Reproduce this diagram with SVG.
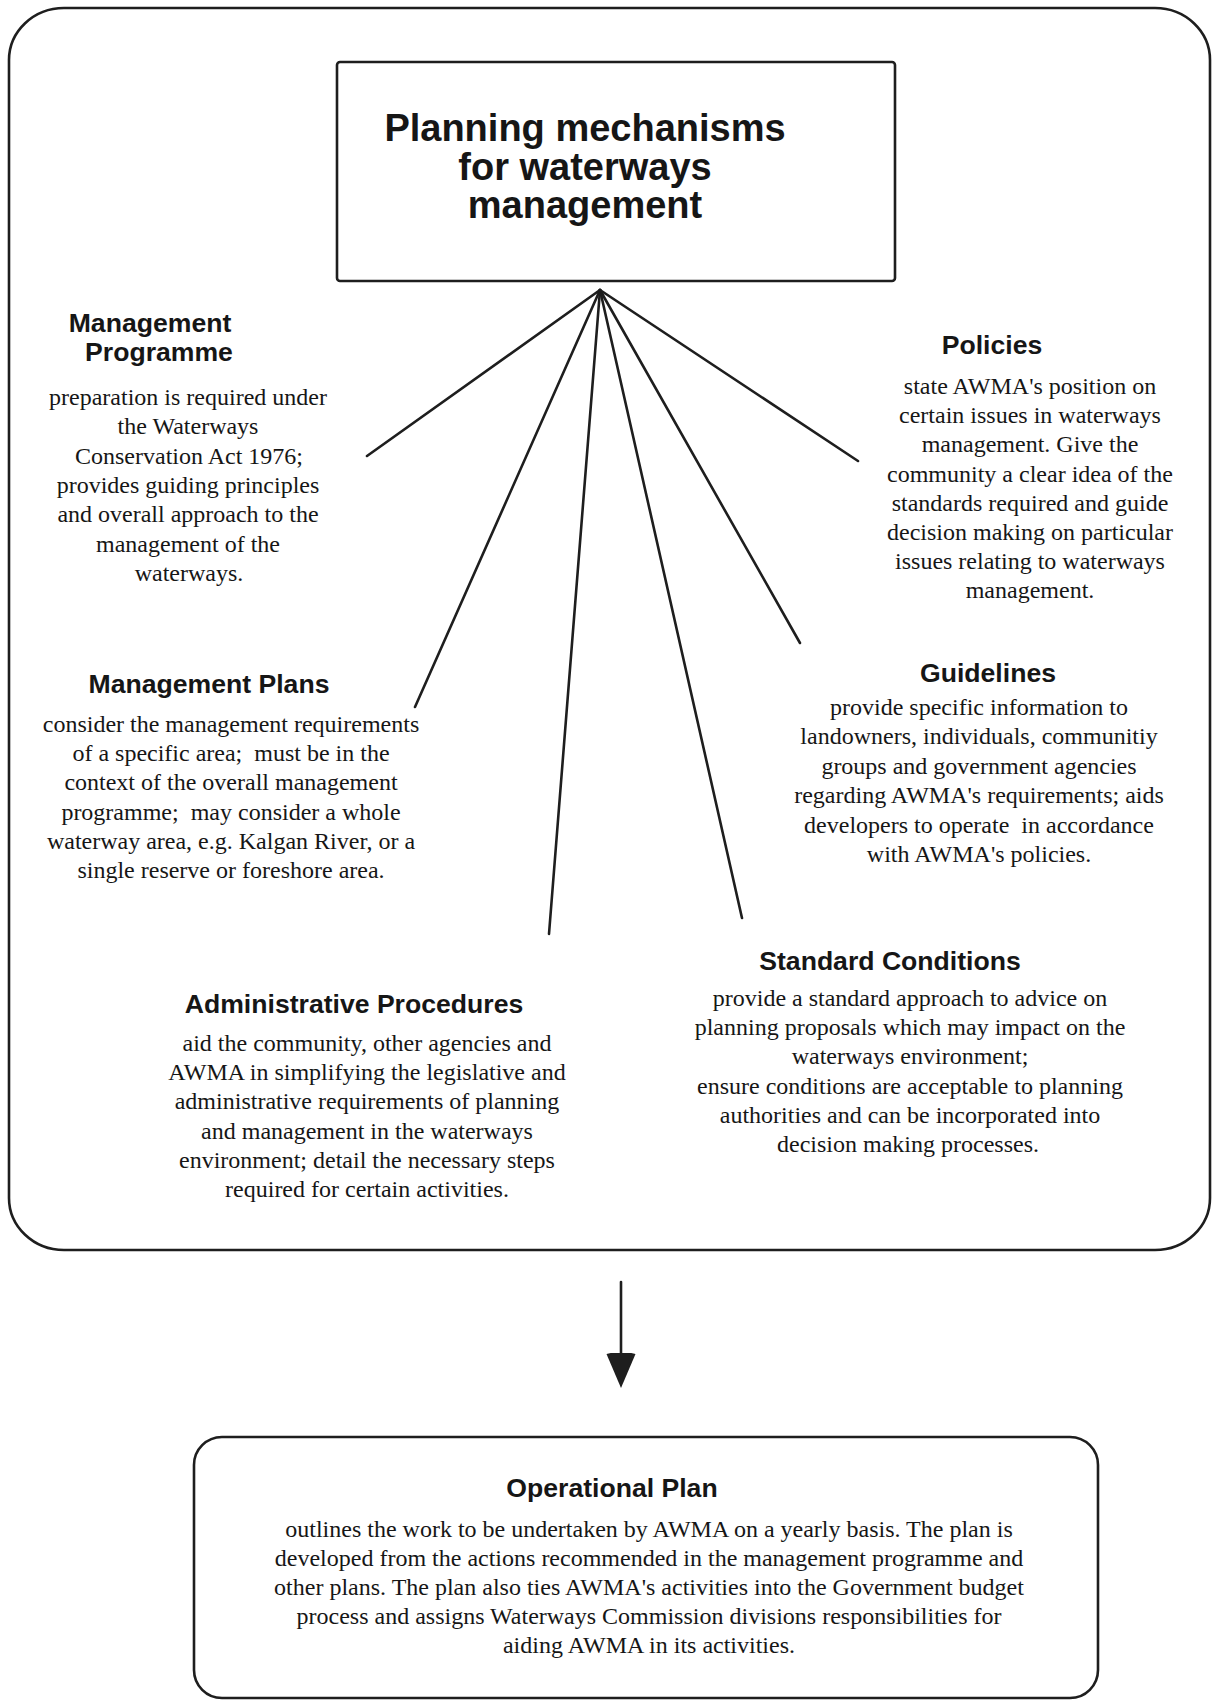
<svg xmlns="http://www.w3.org/2000/svg" width="1215" height="1703" viewBox="0 0 1215 1703">
<style>
  .frame { fill: none; stroke: #1e1e1e; stroke-width: 2.6; }
  .conn { stroke: #1e1e1e; stroke-width: 2.6; stroke-linecap: round; fill: none; }
  .h { font-family: "Liberation Sans", Arial, Helvetica, sans-serif; font-weight: bold; font-size: 26.6px; fill: #161616; text-anchor: middle; }
  .title { font-family: "Liberation Sans", Arial, Helvetica, sans-serif; font-weight: bold; font-size: 38px; fill: #161616; text-anchor: middle; }
  .b { font-family: "Liberation Serif", "Times New Roman", serif; font-size: 24px; fill: #161616; text-anchor: middle; }
</style>
<defs>
  <marker id="arrow" markerUnits="userSpaceOnUse" markerWidth="36" markerHeight="30" refX="1" refY="15" orient="auto" viewBox="0 0 36 30">
    <path d="M1,0.5 Q-3,15 1,29.5 L35,15 Z" fill="#1e1e1e"/>
  </marker>
</defs>
<rect width="1215" height="1703" fill="#ffffff"/>

<g id="outer-frame">
  <rect class="frame" x="9" y="8" width="1201" height="1242" rx="55" ry="52"/>
</g>

<g id="title-node">
  <rect class="frame" x="337" y="62" width="558" height="219" rx="3"/>
  <text class="title" x="585" y="141">Planning mechanisms</text>
  <text class="title" x="585" y="180">for waterways</text>
  <text class="title" x="585" y="218">management</text>
</g>

<g id="connectors">
  <line class="conn" x1="600" y1="290" x2="367" y2="456"/>
  <line class="conn" x1="600" y1="290" x2="415" y2="707"/>
  <line class="conn" x1="600" y1="290" x2="549" y2="934"/>
  <line class="conn" x1="600" y1="290" x2="742" y2="918"/>
  <line class="conn" x1="600" y1="290" x2="800" y2="643"/>
  <line class="conn" x1="600" y1="290" x2="858" y2="461"/>
  <line class="conn" x1="621" y1="1282" x2="621" y2="1354" stroke-width="3" marker-end="url(#arrow)"/>
</g>

<g id="management-programme">
  <text class="h" x="150" y="332">Management</text>
  <text class="h" x="159" y="361">Programme</text>
  <text class="b" x="188" y="405">preparation is required under</text>
  <text class="b" x="188" y="434.3">the Waterways</text>
  <text class="b" x="189" y="463.6">Conservation Act 1976;</text>
  <text class="b" x="188" y="492.9">provides guiding principles</text>
  <text class="b" x="188" y="522.2">and overall approach to the</text>
  <text class="b" x="188" y="551.5">management of the</text>
  <text class="b" x="189" y="580.8">waterways.</text>
</g>

<g id="policies">
  <text class="h" x="992" y="354">Policies</text>
  <text class="b" x="1030" y="394">state AWMA's position on</text>
  <text class="b" x="1030" y="423.2">certain issues in waterways</text>
  <text class="b" x="1030" y="452.4">management. Give the</text>
  <text class="b" x="1030" y="481.6">community a clear idea of the</text>
  <text class="b" x="1030" y="510.8">standards required and guide</text>
  <text class="b" x="1030" y="540">decision making on particular</text>
  <text class="b" x="1030" y="569.2">issues relating to waterways</text>
  <text class="b" x="1030" y="598.4">management.</text>
</g>

<g id="management-plans">
  <text class="h" x="209" y="693">Management Plans</text>
  <text class="b" x="231" y="732">consider the management requirements</text>
  <text class="b" x="231" y="761.2" xml:space="preserve">of a specific area;  must be in the</text>
  <text class="b" x="231" y="790.4">context of the overall management</text>
  <text class="b" x="231" y="819.6" xml:space="preserve">programme;  may consider a whole</text>
  <text class="b" x="231" y="848.8">waterway area, e.g. Kalgan River, or a</text>
  <text class="b" x="231" y="878">single reserve or foreshore area.</text>
</g>

<g id="guidelines">
  <text class="h" x="988" y="682">Guidelines</text>
  <text class="b" x="979" y="715">provide specific information to</text>
  <text class="b" x="979" y="744.4">landowners, individuals, communitiy</text>
  <text class="b" x="979" y="773.8">groups and government agencies</text>
  <text class="b" x="979" y="803.2">regarding AWMA's requirements; aids</text>
  <text class="b" x="979" y="832.6" xml:space="preserve">developers to operate  in accordance</text>
  <text class="b" x="979" y="862">with AWMA's policies.</text>
</g>

<g id="administrative-procedures">
  <text class="h" x="354" y="1013">Administrative Procedures</text>
  <text class="b" x="367" y="1051">aid the community, other agencies and</text>
  <text class="b" x="367" y="1080.2">AWMA in simplifying the legislative and</text>
  <text class="b" x="367" y="1109.4">administrative requirements of planning</text>
  <text class="b" x="367" y="1138.6">and management in the waterways</text>
  <text class="b" x="367" y="1167.8">environment; detail the necessary steps</text>
  <text class="b" x="367" y="1197">required for certain activities.</text>
</g>

<g id="standard-conditions">
  <text class="h" x="890" y="970">Standard Conditions</text>
  <text class="b" x="910" y="1006">provide a standard approach to advice on</text>
  <text class="b" x="910" y="1035.2">planning proposals which may impact on the</text>
  <text class="b" x="910" y="1064.4">waterways environment;</text>
  <text class="b" x="910" y="1093.6">ensure conditions are acceptable to planning</text>
  <text class="b" x="910" y="1122.8">authorities and can be incorporated into</text>
  <text class="b" x="908" y="1152">decision making processes.</text>
</g>

<g id="operational-plan">
  <rect class="frame" x="194" y="1437" width="904" height="261" rx="28" ry="28"/>
  <text class="h" x="612" y="1497">Operational Plan</text>
  <text class="b" x="649" y="1537">outlines the work to be undertaken by AWMA on a yearly basis. The plan is</text>
  <text class="b" x="649" y="1566">developed from the actions recommended in the management programme and</text>
  <text class="b" x="649" y="1595">other plans. The plan also ties AWMA's activities into the Government budget</text>
  <text class="b" x="649" y="1624">process and assigns Waterways Commission divisions responsibilities for</text>
  <text class="b" x="649" y="1653">aiding AWMA in its activities.</text>
</g>
</svg>
